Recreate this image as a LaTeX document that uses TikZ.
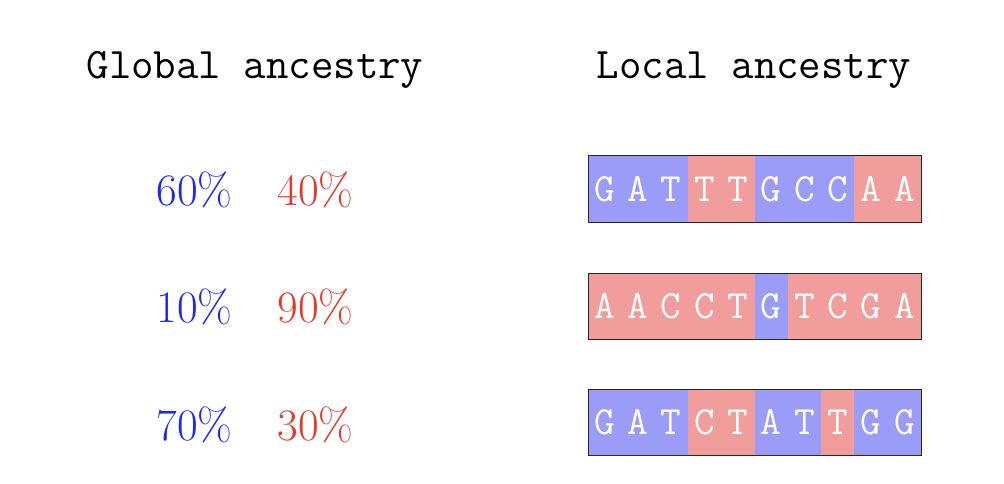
\documentclass[tikz,border=0pt]{standalone}
\definecolor{pctred}{RGB}{232,55,45}
\definecolor{pctblue}{RGB}{30,40,245}
\definecolor{cellred}{RGB}{240,157,155}
\definecolor{cellblue}{RGB}{155,155,248}
\begin{document}
\begin{tikzpicture}[x=1pt,y=-1pt,
  title/.style={inner sep=0pt,font=\fontsize{43.6}{50}\selectfont\ttfamily},
  pct/.style={inner sep=0pt,font=\fontsize{45}{52}\selectfont},
  base/.style={inner sep=0pt,text=white,font=\fontsize{40}{48}\selectfont\ttfamily},
  bcell/.style={fill=cellblue,draw=none},
  rcell/.style={fill=cellred,draw=none}]
\useasboundingbox (0,0) rectangle (1004,484);
\node[title] (tg) at (255,70) {Global ancestry};
\node[title] (tl) at (754,70) {Local ancestry};
% percentages
\node[pct,text=pctblue] (g1) at (194.5,190) {60\%};
\node[pct,text=pctred] (r1) at (315.5,190) {40\%};
\node[pct,text=pctblue] (g2) at (194.5,307) {10\%};
\node[pct,text=pctred] (r2) at (315.5,307) {90\%};
\node[pct,text=pctblue] (g3) at (194.5,425) {70\%};
\node[pct,text=pctred] (r3) at (315.5,425) {30\%};
% sequences
\def\cw{33.3}
\foreach \row/\yy/\seq in {1/156/{G/b,A/b,T/b,T/r,T/r,G/b,C/b,C/b,A/r,A/r},
                          2/273/{A/r,A/r,C/r,C/r,T/r,G/b,T/r,C/r,G/r,A/r},
                          3/389/{G/b,A/b,T/b,C/r,T/r,A/b,T/b,T/r,G/b,G/b}}{
  \foreach \ch/\col [count=\i from 0] in \seq {
    \fill[\col cell] (588+\i*\cw,\yy) rectangle (588+\i*\cw+\cw,\yy+66);
    \node[base] (s\row-\i) at (588+\i*\cw+\cw/2,\yy+33) {\ch};
  }
  \draw[line width=1pt,black!85] (588,\yy) rectangle (921,\yy+66);
}
\end{tikzpicture}
\end{document}
